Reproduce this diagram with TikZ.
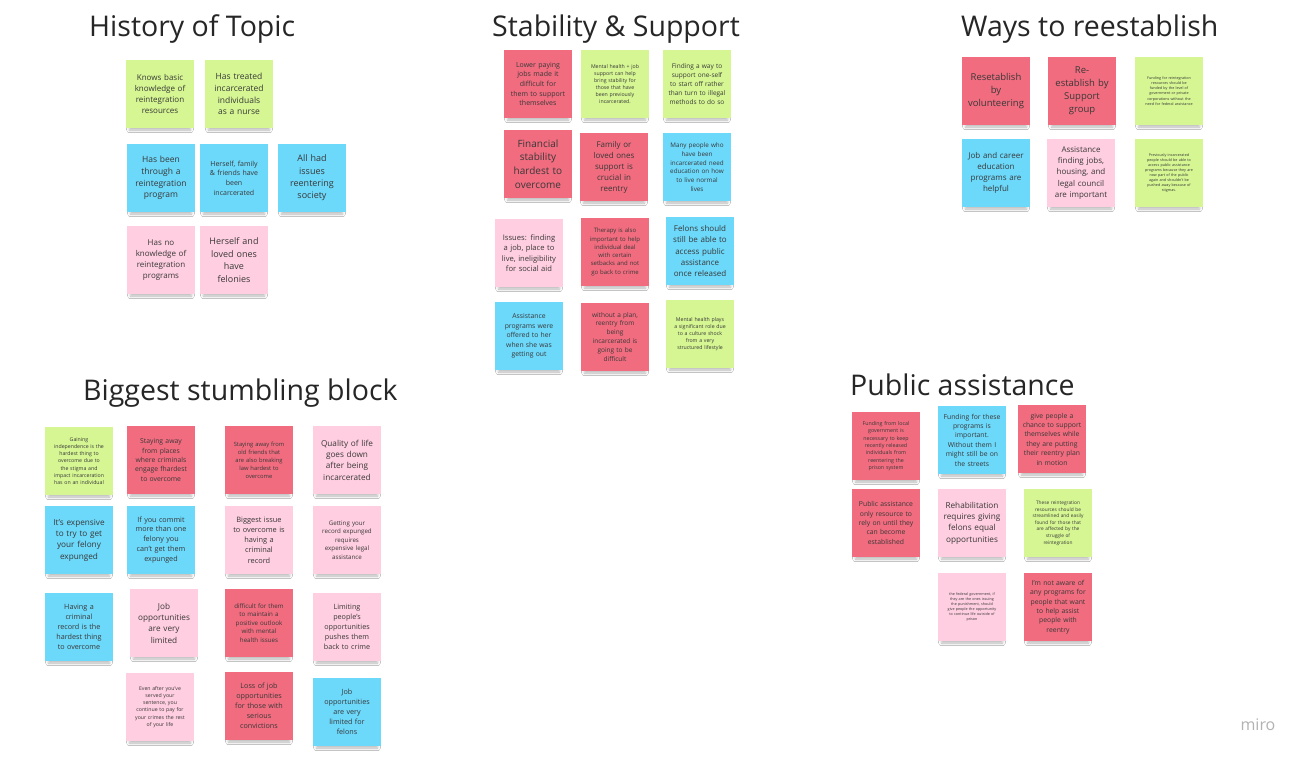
\documentclass[tikz,border=0pt]{standalone}
\usepackage{fontspec}
\setmainfont{Open Sans}
\usepackage{tikz}
\usetikzlibrary{shadows.blur}

\definecolor{stickygreen}{HTML}{D5F692}
\definecolor{stickyblue}{HTML}{6CD8FA}
\definecolor{stickypink}{HTML}{FFCEE0}
\definecolor{stickyred}{HTML}{F16C7F}

\tikzset{
  note/.style={minimum width=68pt, minimum height=68pt, inner sep=0pt,
    text width=64pt, align=center, text=black!78,
    blur shadow={shadow xshift=0pt, shadow yshift=-6pt, shadow opacity=28, shadow scale=0.9, shadow blur radius=3pt}},
  fs/.style={font=\fontsize{#1}{\fpeval{#1*1.38}}\selectfont},
  heading/.style={font=\fontsize{28.5}{32}\selectfont, text=black!85, inner sep=0pt, anchor=west}
}

\begin{document}
\begin{tikzpicture}[x=1pt,y=-1pt]
        \useasboundingbox (0,0) rectangle (1309,763);
        \fill[white] (0,0) rectangle (1309,763);
        % headings
        \node[heading] (hist) at (89,29) {History of Topic};
        \node[heading] (stab) at (492,29) {Stability \& Support};
        \node[heading] (ways) at (961,29) {Ways to reestablish};
        \node[heading] (block) at (83,393) {Biggest stumbling block};
        \node[heading] (pub) at (850,385) {Public assistance};
        % history of topic
        \foreach \n/\x/\y/\c/\s/\t in {
          hg1/160/94/stickygreen/8/{Knows basic\\knowledge of\\reintegration\\resources},
          hg2/239/94/stickygreen/8.5/{Has treated\\incarcerated\\individuals\\as a nurse},
          hb1/161/178/stickyblue/8.5/{Has been\\through a\\reintegration\\program},
          hb2/234/178/stickyblue/7/{Herself, family\\\& friends have\\been\\incarcerated},
          hb3/312/178/stickyblue/9/{All had\\issues\\reentering\\society},
          hp1/161/260/stickypink/8/{Has no\\knowledge of\\reintegration\\programs},
          hp2/234/260/stickypink/9/{Herself and\\loved ones\\have\\felonies}} {
        	\node[note, fill=\c, fs=\s] (\n) at (\x,\y) {\t};
        }
        % stability and support
        \foreach \n/\x/\y/\c/\s/\t in {
          sr1/538/84/stickyred/7/{Lower paying\\jobs made it\\difficult for\\them to support\\themselves},
          sg1/615/84/stickygreen/5.2/{Mental health + job\\support can help\\bring stability for\\those that have\\been previously\\incarcerated.},
          sg2/697/84/stickygreen/6.5/{Finding a way to\\support one-self\\to start off rather\\than turn to illegal\\methods to do so},
          sr2/538/164/stickyred/10/{Financial\\stability\\hardest to\\overcome},
          sr3/614/167/stickyred/8/{Family or\\loved ones\\support is\\crucial in\\reentry},
          sb1/697/167/stickyblue/6.3/{Many people who\\have been\\incarcerated need\\education on how\\to live normal\\lives},
          sp1/529/253/stickypink/7.6/{Issues: finding\\a job, place to\\live, ineligibility\\for social aid},
          sr4/615/252/stickyred/6/{Therapy is also\\important to help\\individual deal\\with certain\\setbacks and not\\go back to crime},
          sb2/700/251/stickyblue/8/{Felons should\\still be able to\\access public\\assistance\\once released},
          sb3/529/336/stickyblue/6.8/{Assistance\\programs were\\offered to her\\when she was\\getting out},
          sr5/615/337/stickyred/6.5/{without a plan,\\reentry from\\being\\incarcerated is\\going to be\\difficult},
          sg3/700/334/stickygreen/5.2/{Mental health plays\\a significant role due\\to a culture shock\\from a very\\structured lifestyle}} {
        	\node[note, fill=\c, fs=\s] (\n) at (\x,\y) {\t};
        }
        % ways to reestablish
        \foreach \n/\x/\y/\c/\s/\t in {
          wr1/996/91/stickyred/9.5/{Resetablish\\by\\volunteering},
          wr2/1082/91/stickyred/9.5/{Re-\\establish by\\Support\\group},
          wg1/1169/91/stickygreen/3.7/{Funding for reintegration\\resources should be\\funded by the level of\\government or private\\corporations without the\\need for federal assistance},
          wb1/996/173/stickyblue/8/{Job and career\\education\\programs are\\helpful},
          wp1/1081/173/stickypink/8/{Assistance\\finding jobs,\\housing, and\\legal council\\are important},
          wg2/1169/173/stickygreen/3.7/{Previously incarcerated\\people should be able to\\access public assistance\\programs because they are\\now part of the public\\again and shouldn't be\\pushed away because of\\stigmas.}} {
        	\node[note, fill=\c, fs=\s] (\n) at (\x,\y) {\t};
        }
        % public assistance
        \foreach \n/\x/\y/\c/\s/\t in {
          pr1/886/446/stickyred/5.3/{Funding from local\\government is\\necessary to keep\\recently released\\individuals from\\reentering the\\prison system},
          pb1/972/440/stickyblue/6.8/{Funding for these\\programs is\\important.\\Without them I\\might still be on\\the streets},
          pr2/1052/439/stickyred/6.8/{give people a\\chance to support\\themselves while\\they are putting\\their reentry plan\\in motion},
          pr3/886/523/stickyred/6.8/{Public assistance\\only resource to\\rely on until they\\can become\\established},
          pp1/972/523/stickypink/8.2/{Rehabilitation\\requires giving\\felons equal\\opportunities},
          pg1/1058/523/stickygreen/4.8/{These reintegration\\resources should be\\streamlined and easily\\found for those that\\are affected by the\\struggle of\\reintegration},
          pp2/972/607/stickypink/3.7/{the federal government, if\\they are the ones issuing\\the punishment, should\\give people the opportunity\\to continue life outside of\\prison},
          pr4/1058/607/stickyred/6.8/{I'm not aware of\\any programs for\\people that want\\to help assist\\people with\\reentry}} {
        	\node[note, fill=\c, fs=\s] (\n) at (\x,\y) {\t};
        }
        % biggest stumbling block
        \foreach \n/\x/\y/\c/\s/\t in {
          bg1/79/461/stickygreen/5.2/{Gaining\\independence is the\\hardest thing to\\overcome due to\\the stigma and\\impact incarceration\\has on an individual},
          br1/161/460/stickyred/6.8/{Staying away\\from places\\where criminals\\engage fhardest\\to overcome},
          bb1/79/540/stickyblue/8.2/{It's expensive\\to try to get\\your felony\\expunged},
          bb2/161/540/stickyblue/7.2/{If you commit\\more than one\\felony you\\can't get them\\expunged},
          bb3/79/627/stickyblue/7.2/{Having a\\criminal\\record is the\\hardest thing\\to overcome},
          bp1/164/623/stickypink/8.2/{Job\\opportunities\\are very\\limited},
          bp2/160/707/stickypink/5.2/{Even after you've\\served your\\sentence, you\\continue to pay for\\your crimes the rest\\of your life},
          br2/259/460/stickyred/5.8/{Staying away from\\old friends that\\are also breaking\\law hardest to\\overcome},
          bp3/347/460/stickypink/8.2/{Quality of life\\goes down\\after being\\incarcerated},
          bp4/259/540/stickypink/7.4/{Biggest issue\\to overcome is\\having a\\criminal\\record},
          bp5/347/540/stickypink/6.2/{Getting your\\record expunged\\requires\\expensive legal\\assistance},
          br3/259/623/stickyred/6.2/{difficult for them\\to maintain a\\positive outlook\\with mental\\health issues},
          bp6/347/627/stickypink/7.2/{Limiting\\people's\\opportunities\\pushes them\\back to crime},
          br4/259/706/stickyred/7.2/{Loss of job\\opportunities\\for those with\\serious\\convictions},
          bb4/347/712/stickyblue/7.2/{Job\\opportunities\\are very\\limited for\\felons}} {
        	\node[note, fill=\c, fs=\s] (\n) at (\x,\y) {\t};
        }
        \node[text=black!30, font=\fontsize{16}{16}\selectfont] (logo) at (1258,725) {miro};
\end{tikzpicture}
\end{document}
